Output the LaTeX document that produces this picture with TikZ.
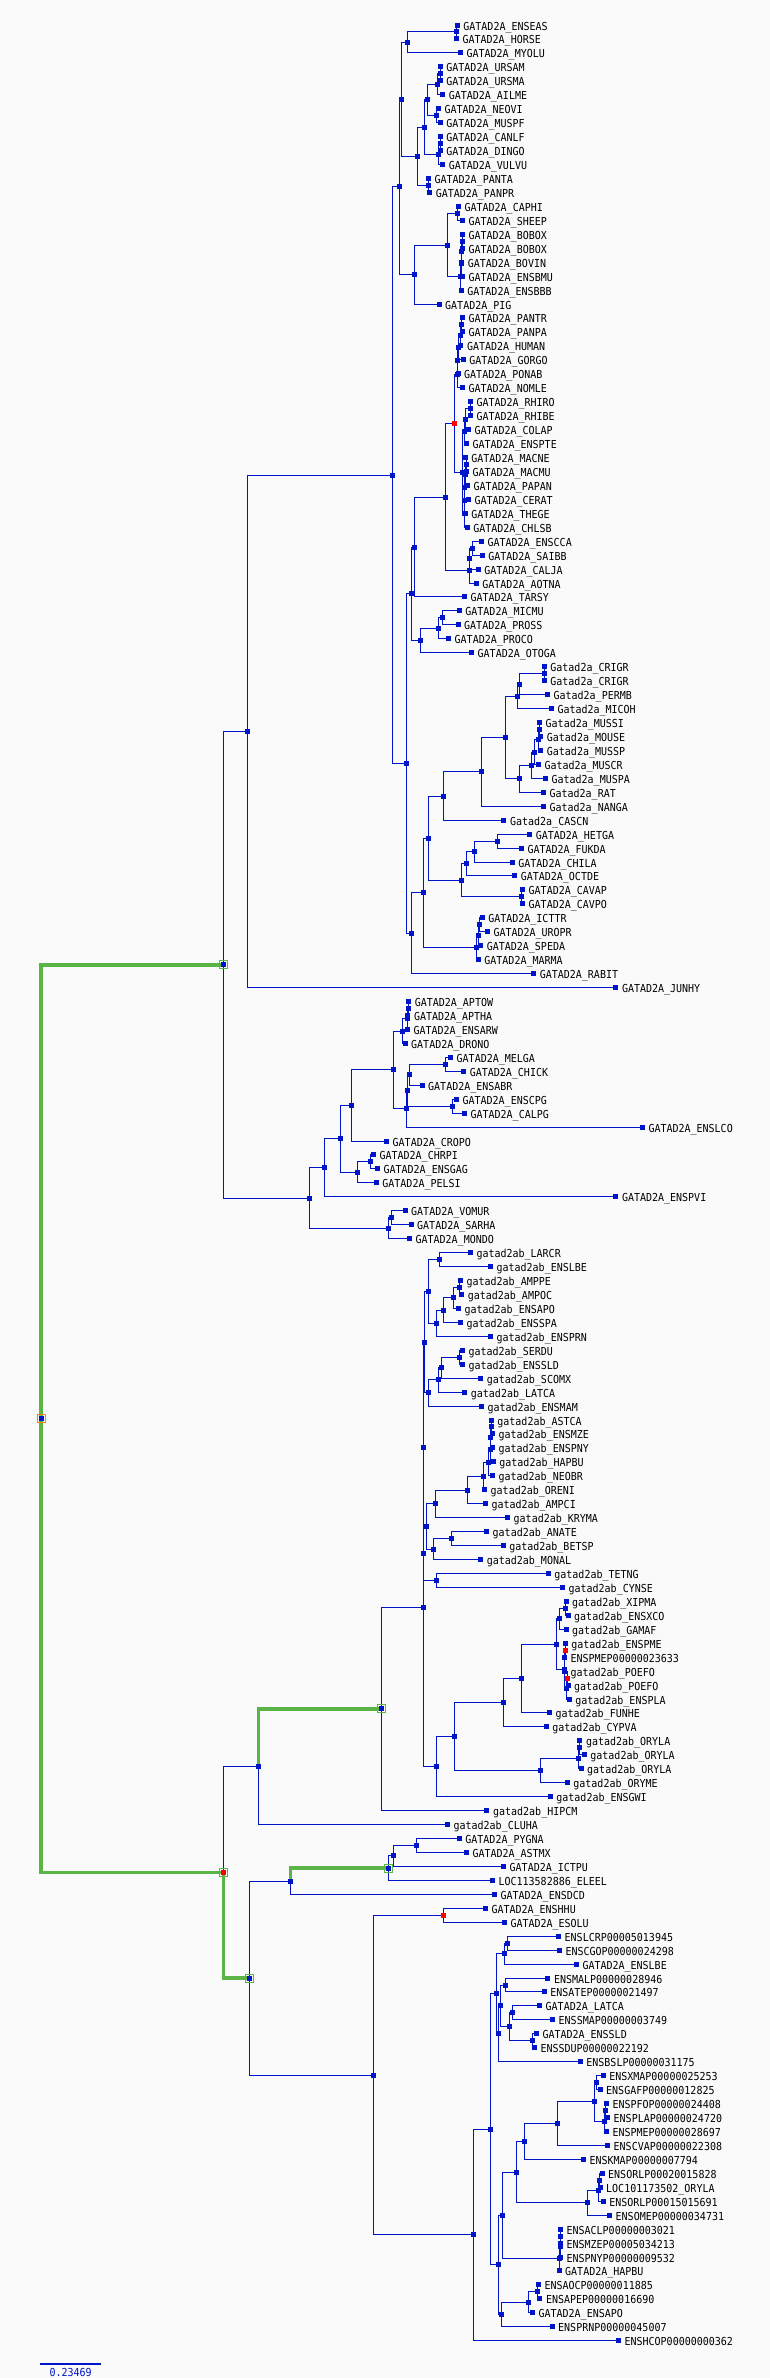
\documentclass[tikz,border=0pt]{standalone}
\usepackage{fontspec}
\setmonofont{DejaVu Sans Mono}
\definecolor{tb}{RGB}{0,20,200}
\definecolor{tg}{RGB}{90,180,70}
\definecolor{bgc}{RGB}{250,250,250}
\pgfdeclarelayer{back}
\pgfdeclarelayer{bg}
\pgfsetlayers{back,bg,main}
\tikzset{
 mk/.style={rectangle,fill=tb,minimum size=5pt,inner sep=0pt,outer sep=0pt},
 rmk/.style={mk,fill=red},
 lbl/.style={anchor=base west,inner sep=0pt,font=\ttfamily\fontsize{10}{12}\selectfont,text=black},
 edge/.style={draw=tb,line width=1pt},
 gedge/.style={draw=tg,line width=3.5pt},
 gbox/.style={rectangle,draw=tg,line width=1pt,minimum size=8pt,inner sep=0pt,fill=none},
}
\newcommand\lf[4]{\node[mk] (#1) at (#2,{25+13.95*(#3)}) {};\node[lbl] (#1t) at ([xshift=6pt,yshift=-5pt]#1.center) {\scalebox{1}[1.1]{#4}};}
\newcommand\nd[4][mk]{\node[#1] (#2) at (#3,{25+13.95*(#4)}) {};}
\newcommand\br[2]{\draw[edge] (#1.center) |- (#2.center);}
\newcommand\gbr[2]{\draw[gedge] (#1.center) |- (#2.center);}
\begin{document}
\begin{tikzpicture}[x=1pt,y=-1pt]
\useasboundingbox (0,0) rectangle (770,2378);
\begin{pgfonlayer}{back}
\fill[bgc] (0,0) rectangle (770,2378);
\end{pgfonlayer}
% ---------------- leaves
\lf{l0}{457.2}{0}{GATAD2A\_ENSEAS}
\lf{l1}{456.4}{1}{GATAD2A\_HORSE}
\lf{l2}{460.4}{2}{GATAD2A\_MYOLU}
\lf{l3}{440.2}{3}{GATAD2A\_URSAM}
\lf{l4}{440.2}{4}{GATAD2A\_URSMA}
\lf{l5}{442.6}{5}{GATAD2A\_AILME}
\lf{l6}{438.3}{6}{GATAD2A\_NEOVI}
\lf{l7}{440.2}{7}{GATAD2A\_MUSPF}
\lf{l8}{440.2}{8}{GATAD2A\_CANLF}
\lf{l9}{440.2}{9}{GATAD2A\_DINGO}
\lf{l10}{442.6}{10}{GATAD2A\_VULVU}
\lf{l11}{428.4}{11}{GATAD2A\_PANTA}
\lf{l12}{429.6}{12}{GATAD2A\_PANPR}
\lf{l13}{458.4}{13}{GATAD2A\_CAPHI}
\lf{l14}{462.4}{14}{GATAD2A\_SHEEP}
\lf{l15}{462.4}{15}{GATAD2A\_BOBOX}
\lf{l16}{462.4}{16}{GATAD2A\_BOBOX}
\lf{l17}{461.6}{17}{GATAD2A\_BOVIN}
\lf{l18}{462.4}{18}{GATAD2A\_ENSBMU}
\lf{l19}{461.2}{19}{GATAD2A\_ENSBBB}
\lf{l20}{439.0}{20}{GATAD2A\_PIG}
\lf{l21}{462.4}{21}{GATAD2A\_PANTR}
\lf{l22}{462.4}{22}{GATAD2A\_PANPA}
\lf{l23}{460.8}{23}{GATAD2A\_HUMAN}
\lf{l24}{463.2}{24}{GATAD2A\_GORGO}
\lf{l25}{458.0}{25}{GATAD2A\_PONAB}
\lf{l26}{462.4}{26}{GATAD2A\_NOMLE}
\lf{l27}{470.3}{27}{GATAD2A\_RHIRO}
\lf{l28}{470.3}{28}{GATAD2A\_RHIBE}
\lf{l29}{468.3}{29}{GATAD2A\_COLAP}
\lf{l30}{466.3}{30}{GATAD2A\_ENSPTE}
\lf{l31}{465.2}{31}{GATAD2A\_MACNE}
\lf{l32}{466.3}{32}{GATAD2A\_MACMU}
\lf{l33}{467.5}{33}{GATAD2A\_PAPAN}
\lf{l34}{468.3}{34}{GATAD2A\_CERAT}
\lf{l35}{465.2}{35}{GATAD2A\_THEGE}
\lf{l36}{467.1}{36}{GATAD2A\_CHLSB}
\lf{l37}{481.3}{37}{GATAD2A\_ENSCCA}
\lf{l38}{482.1}{38}{GATAD2A\_SAIBB}
\lf{l39}{478.2}{39}{GATAD2A\_CALJA}
\lf{l40}{476.2}{40}{GATAD2A\_AOTNA}
\lf{l41}{464.4}{41}{GATAD2A\_TARSY}
\lf{l42}{459.2}{42}{GATAD2A\_MICMU}
\lf{l43}{458.0}{43}{GATAD2A\_PROSS}
\lf{l44}{448.5}{44}{GATAD2A\_PROCO}
\lf{l45}{471.5}{45}{GATAD2A\_OTOGA}
\lf{l46}{544.2}{46}{Gatad2a\_CRIGR}
\lf{l47}{544.2}{47}{Gatad2a\_CRIGR}
\lf{l48}{547.4}{48}{Gatad2a\_PERMB}
\lf{l49}{551.3}{49}{Gatad2a\_MICOH}
\lf{l50}{539.5}{50}{Gatad2a\_MUSSI}
\lf{l51}{540.7}{51}{Gatad2a\_MOUSE}
\lf{l52}{540.7}{52}{Gatad2a\_MUSSP}
\lf{l53}{538.3}{53}{Gatad2a\_MUSCR}
\lf{l54}{545.4}{54}{Gatad2a\_MUSPA}
\lf{l55}{543.4}{55}{Gatad2a\_RAT}
\lf{l56}{543.4}{56}{Gatad2a\_NANGA}
\lf{l57}{503.9}{57}{Gatad2a\_CASCN}
\lf{l58}{529.6}{58}{GATAD2A\_HETGA}
\lf{l59}{521.3}{59}{GATAD2A\_FUKDA}
\lf{l60}{512.2}{60}{GATAD2A\_CHILA}
\lf{l61}{514.6}{61}{GATAD2A\_OCTDE}
\lf{l62}{522.5}{62}{GATAD2A\_CAVAP}
\lf{l63}{522.5}{63}{GATAD2A\_CAVPO}
\lf{l64}{482.1}{64}{GATAD2A\_ICTTR}
\lf{l65}{487.3}{65}{GATAD2A\_UROPR}
\lf{l66}{480.6}{66}{GATAD2A\_SPEDA}
\lf{l67}{478.2}{67}{GATAD2A\_MARMA}
\lf{l68}{533.6}{68}{GATAD2A\_RABIT}
\lf{l69}{615.8}{69}{GATAD2A\_JUNHY}
\lf{l70}{408.6}{70}{GATAD2A\_APTOW}
\lf{l71}{407.8}{71}{GATAD2A\_APTHA}
\lf{l72}{407.4}{72}{GATAD2A\_ENSARW}
\lf{l73}{405.0}{73}{GATAD2A\_DRONO}
\lf{l74}{450.5}{74}{GATAD2A\_MELGA}
\lf{l75}{463.6}{75}{GATAD2A\_CHICK}
\lf{l76}{422.0}{76}{GATAD2A\_ENSABR}
\lf{l77}{456.4}{77}{GATAD2A\_ENSCPG}
\lf{l78}{464.4}{78}{GATAD2A\_CALPG}
\lf{l79}{642.3}{79}{GATAD2A\_ENSLCO}
\lf{l80}{386.5}{80}{GATAD2A\_CROPO}
\lf{l81}{373.4}{81}{GATAD2A\_CHRPI}
\lf{l82}{377.4}{82}{GATAD2A\_ENSGAG}
\lf{l83}{376.2}{83}{GATAD2A\_PELSI}
\lf{l84}{615.8}{84}{GATAD2A\_ENSPVI}
\lf{l85}{405.0}{85}{GATAD2A\_VOMUR}
\lf{l86}{411.0}{86}{GATAD2A\_SARHA}
\lf{l87}{409.4}{87}{GATAD2A\_MONDO}
\lf{l88}{470.3}{88}{gatad2ab\_LARCR}
\lf{l89}{490.4}{89}{gatad2ab\_ENSLBE}
\lf{l90}{460.4}{90}{gatad2ab\_AMPPE}
\lf{l91}{461.6}{91}{gatad2ab\_AMPOC}
\lf{l92}{458.4}{92}{gatad2ab\_ENSAPO}
\lf{l93}{460.4}{93}{gatad2ab\_ENSSPA}
\lf{l94}{490.4}{94}{gatad2ab\_ENSPRN}
\lf{l95}{462.4}{95}{gatad2ab\_SERDU}
\lf{l96}{462.4}{96}{gatad2ab\_ENSSLD}
\lf{l97}{480.6}{97}{gatad2ab\_SCOMX}
\lf{l98}{464.7}{98}{gatad2ab\_LATCA}
\lf{l99}{481.3}{99}{gatad2ab\_ENSMAM}
\lf{l100}{491.2}{100}{gatad2ab\_ASTCA}
\lf{l101}{492.4}{101}{gatad2ab\_ENSMZE}
\lf{l102}{492.4}{102}{gatad2ab\_ENSPNY}
\lf{l103}{493.2}{103}{gatad2ab\_HAPBU}
\lf{l104}{492.4}{104}{gatad2ab\_NEOBR}
\lf{l105}{484.5}{105}{gatad2ab\_ORENI}
\lf{l106}{485.3}{106}{gatad2ab\_AMPCI}
\lf{l107}{507.5}{107}{gatad2ab\_KRYMA}
\lf{l108}{486.5}{108}{gatad2ab\_ANATE}
\lf{l109}{503.1}{109}{gatad2ab\_BETSP}
\lf{l110}{480.6}{110}{gatad2ab\_MONAL}
\lf{l111}{548.2}{111}{gatad2ab\_TETNG}
\lf{l112}{562.4}{112}{gatad2ab\_CYNSE}
\lf{l113}{566.0}{113}{gatad2ab\_XIPMA}
\lf{l114}{568.0}{114}{gatad2ab\_ENSXCO}
\lf{l115}{566.0}{115}{gatad2ab\_GAMAF}
\lf{l116}{565.2}{116}{gatad2ab\_ENSPME}
\lf{l117}{564.4}{117}{ENSPMEP00000023633}
\lf{l118}{564.4}{118}{gatad2ab\_POEFO}
\lf{l119}{568.0}{119}{gatad2ab\_POEFO}
\lf{l120}{569.1}{120}{gatad2ab\_ENSPLA}
\lf{l121}{549.4}{121}{gatad2ab\_FUNHE}
\lf{l122}{546.2}{122}{gatad2ab\_CYPVA}
\lf{l123}{579.8}{123}{gatad2ab\_ORYLA}
\lf{l124}{584.2}{124}{gatad2ab\_ORYLA}
\lf{l125}{581.0}{125}{gatad2ab\_ORYLA}
\lf{l126}{567.2}{126}{gatad2ab\_ORYME}
\lf{l127}{550.2}{127}{gatad2ab\_ENSGWI}
\lf{l128}{486.9}{128}{gatad2ab\_HIPCM}
\lf{l129}{447.4}{129}{gatad2ab\_CLUHA}
\lf{l130}{459.2}{130}{GATAD2A\_PYGNA}
\lf{l131}{466.3}{131}{GATAD2A\_ASTMX}
\lf{l132}{503.5}{132}{GATAD2A\_ICTPU}
\lf{l133}{492.4}{133}{LOC113582886\_ELEEL}
\lf{l134}{494.4}{134}{GATAD2A\_ENSDCD}
\lf{l135}{485.3}{135}{GATAD2A\_ENSHHU}
\lf{l136}{504.3}{136}{GATAD2A\_ESOLU}
\lf{l137}{558.5}{137}{ENSLCRP00005013945}
\lf{l138}{559.3}{138}{ENSCGOP00000024298}
\lf{l139}{576.3}{139}{GATAD2A\_ENSLBE}
\lf{l140}{547.8}{140}{ENSMALP00000028946}
\lf{l141}{544.2}{141}{ENSATEP00000021497}
\lf{l142}{539.5}{142}{GATAD2A\_LATCA}
\lf{l143}{552.5}{143}{ENSSMAP00000003749}
\lf{l144}{536.3}{144}{GATAD2A\_ENSSLD}
\lf{l145}{534.3}{145}{ENSSDUP00000022192}
\lf{l146}{580.2}{146}{ENSBSLP00000031175}
\lf{l147}{603.1}{147}{ENSXMAP00000025253}
\lf{l148}{600.0}{148}{ENSGAFP00000012825}
\lf{l149}{606.3}{149}{ENSPFOP00000024408}
\lf{l150}{607.5}{150}{ENSPLAP00000024720}
\lf{l151}{606.3}{151}{ENSPMEP00000028697}
\lf{l152}{607.5}{152}{ENSCVAP00000022308}
\lf{l153}{583.4}{153}{ENSKMAP00000007794}
\lf{l154}{602.0}{154}{ENSORLP00020015828}
\lf{l155}{600.0}{155}{LOC101173502\_ORYLA}
\lf{l156}{603.1}{156}{ENSORLP00015015691}
\lf{l157}{609.5}{157}{ENSOMEP00000034731}
\lf{l158}{560.4}{158}{ENSACLP00000003021}
\lf{l159}{560.4}{159}{ENSMZEP00005034213}
\lf{l160}{560.4}{160}{ENSPNYP00000009532}
\lf{l161}{559.0}{161}{GATAD2A\_HAPBU}
\lf{l162}{538.3}{162}{ENSAOCP00000011885}
\lf{l163}{539.8}{163}{ENSAPEP00000016690}
\lf{l164}{532.4}{164}{GATAD2A\_ENSAPO}
\lf{l165}{552.0}{165}{ENSPRNP00000045007}
\lf{l166}{618.4}{166}{ENSHCOP00000000362}
% ---------------- internal nodes
\nd{nEq}{456.5}{0.5}
\nd{nLa1}{407.5}{1.25}
\nd{nUrs}{440.2}{3.5}
\nd{nUrsA}{437.5}{4.25}
\nd{nMus}{436.3}{6.5}
\nd{nArct}{427.2}{5.375}
\nd{nCan}{440.2}{8.5}
\nd{nCanV}{438.3}{9.25}
\nd{nCanif}{424.0}{7.3125}
\nd{nFel}{428.4}{11.5}
\nd{nCarn}{417.3}{9.406}
\nd{nLa2}{401.9}{5.328}
\nd{nCap}{457.2}{13.5}
\nd{nBa}{462.0}{15.5}
\nd{nBb}{461.6}{16.25}
\nd{nBc}{461.2}{17.125}
\nd{nBd}{460.8}{18.06}
\nd{nBov}{447.4}{15.78}
\nd{nRum}{414.1}{17.89}
\nd{nLa3}{399.9}{11.61}
\nd{nPan}{461.6}{21.5}
\nd{nHp}{460.0}{22.25}
\nd{nHpg}{458.8}{23.125}
\nd{nHom}{457.5}{24.06}
\nd{nHomb}{457.0}{25.03}
\nd{nRhi}{470.3}{27.5}
\nd{nColb}{465.2}{28.25}
\nd{nColc}{464.6}{29.125}
\nd{nMac}{466.0}{31.5}
\nd{nPapa}{465.6}{32.25}
\nd{nPapb}{464.8}{33.125}
\nd{nPapc}{464.4}{34.06}
\nd{nPapd}{464.0}{35.03}
\nd{nCerc}{462.4}{32.08}
\nd[rmk]{nCat}{454.5}{28.55}
\nd{nCeb}{472.3}{37.5}
\nd{nCebb}{469.5}{38.25}
\nd{nNwm}{469.0}{39.125}
\nd{nAnth}{445.8}{33.84}
\nd{nHap}{414.1}{37.42}
\nd{nLem}{442.2}{42.5}
\nd{nLemb}{438.3}{43.25}
\nd{nStrep}{420.5}{44.125}
\nd{nPrim}{411.8}{40.77}
\nd{nCri}{544.2}{46.5}
\nd{nCrib}{519.3}{47.25}
\nd{nCric}{517.3}{48.125}
\nd{nMsa}{539.5}{50.5}
\nd{nMsb}{538.7}{51.25}
\nd{nMsc}{534.3}{52.125}
\nd{nMsd}{531.6}{53.06}
\nd{nMr}{519.3}{54.03}
\nd{nMur}{505.5}{51.08}
\nd{nMurb}{481.3}{53.54}
\nd{nMurc}{443.4}{55.27}
\nd{nHf}{497.6}{58.5}
\nd{nHfc}{474.2}{59.25}
\nd{nHfco}{466.3}{60.125}
\nd{nCav}{521.3}{62.5}
\nd{nHys}{461.6}{61.31}
\nd{nRoda}{428.8}{58.29}
\nd{nSqa}{479.8}{64.5}
\nd{nSqb}{478.2}{65.25}
\nd{nSqc}{476.2}{66.125}
\nd{nRod}{423.2}{62.21}
\nd{nGli}{411.4}{65.1}
\nd{nEuar}{406.2}{52.94}
\nd{nBor}{392.4}{32.27}
\nd{nMam}{247.3}{50.64}
\nd{nApt}{408.6}{70.5}
\nd{nAptb}{407.4}{71.25}
\nd{nPal}{402.3}{72.125}
\nd{nGal}{445.4}{74.5}
\nd{nGalb}{409.8}{75.25}
\nd{nAns}{452.5}{77.5}
\nd{nGalc}{407.4}{76.375}
\nd{nGald}{406.2}{77.69}
\nd{nNeo}{393.2}{74.9}
\nd{nBird}{351.3}{77.45}
\nd{nTur}{370.2}{81.5}
\nd{nTurb}{357.2}{82.25}
\nd{nArch}{340.2}{79.85}
\nd{nSaur}{324.4}{81.93}
\nd{nMara}{391.2}{85.5}
\nd{nMar}{388.0}{86.25}
\nd{nAmn}{309.4}{84.09}
\nd{nTet}{223.5}{67.37}
\nd{nLar}{439.4}{88.5}
\nd{nAmpa}{459.2}{90.5}
\nd{nAmpb}{453.3}{91.25}
\nd{nAmpc}{443.4}{92.125}
\nd{nAmpd}{436.3}{93.06}
\nd{nPca}{428.4}{90.78}
\nd{nSera}{459.2}{95.5}
\nd{nSerb}{441.4}{96.25}
\nd{nSerc}{438.3}{97.125}
\nd{nSerd}{428.4}{98.06}
\nd{nPcb}{424.4}{94.42}
\nd{nCia}{491.2}{100.5}
\nd{nCib}{490.8}{101.25}
\nd{nCic}{490.0}{102.125}
\nd{nCid}{488.9}{103.06}
\nd{nCie}{483.3}{104.03}
\nd{nCif}{467.5}{105.02}
\nd{nCig}{435.5}{106.01}
\nd{nAna}{451.3}{108.5}
\nd{nAnb}{433.1}{109.25}
\nd{nOv}{426.0}{107.63}
\nd{nTc}{436.3}{111.5}
\nd{nPc}{423.2}{109.57}
\nd{nPcc}{423.2}{102.0}
\nd{nXa}{565.2}{113.5}
\nd{nXb}{559.7}{114.25}
\nd[rmk]{nPm}{565.2}{116.5}
\nd[rmk]{nPf}{567.2}{118.5}
\nd{nPfb}{566.5}{119.25}
\nd{nPg}{564.4}{117.875}
\nd{nPoe}{556.5}{116.06}
\nd{nCypa}{521.3}{118.53}
\nd{nCypb}{503.5}{120.27}
\nd{nOa}{579.8}{123.5}
\nd{nOb}{578.2}{124.25}
\nd{nOry}{540.3}{125.125}
\nd{nCyp}{454.1}{122.7}
\nd{nAth}{436.3}{124.85}
\nd{nX}{423.2}{113.43}
\nd{nGab}{381.3}{120.7}
\nd{nOtc}{258.3}{124.85}
\nd{nPya}{416.5}{130.5}
\nd{nPyb}{393.2}{131.25}
\nd{nOst}{388.0}{132.125}
\nd{nOto}{290.4}{133.06}
\nd[rmk]{nEso}{443.4}{135.5}
\nd{nLca}{507.0}{137.5}
\nd{nLcb}{504.3}{138.25}
\nd{nMal}{505.5}{140.5}
\nd{nLa}{512.2}{142.5}
\nd{nSd}{532.4}{144.5}
\nd{nLasd}{509.4}{143.5}
\nd{nQa}{500.3}{142}
\nd{nQb}{498.5}{144}
\nd{nQc}{496.4}{141.125}
\nd{nXg}{596.8}{147.5}
\nd{nPla}{605.0}{149.5}
\nd{nPlb}{604.3}{150.25}
\nd{nPoeb}{594.0}{148.875}
\nd{nPoec}{557.3}{150.44}
\nd{nPoed}{524.5}{151.72}
\nd{nOra}{599.2}{154.5}
\nd{nOrb}{598.5}{155.25}
\nd{nOrc}{587.3}{156.125}
\nd{nAthb}{516.6}{153.92}
\nd{nCka}{560.4}{158.5}
\nd{nCkb}{560.0}{159.25}
\nd{nCkc}{559.0}{160.125}
\nd{nOvb}{502.0}{157.02}
\nd{nAma}{537.3}{162.5}
\nd{nAmb}{528.5}{163.25}
\nd{nAmc}{501.0}{164.125}
\nd{nD}{498.5}{160.57}
\nd{nAcan}{490.0}{150.85}
\nd{nNeot}{473.5}{158.42}
\nd{nEup}{373.4}{146.96}
\nd{nGaa}{249.2}{140.01}
\nd[rmk]{nTel}{223.5}{132.43}
\nd{root}{41}{99.9}
% green boxes
\node[gbox] (bxTet) at (nTet) {};
\node[gbox] (bxTel) at (nTel) {};
\node[gbox] (bxGaa) at (nGaa) {};
\node[gbox] (bxGab) at (nGab) {};
\node[gbox] (bxOst) at (nOst) {};
\node[gbox,draw=orange] (bxRoot) at (root) {};
% scale bar
\coordinate (sb1) at (40,2363.7);
\coordinate (sb2) at (101,2363.7);
\node[lbl,text=tb] (sbl) at (49.3,2376) {\scalebox{1}[1.1]{0.23469}};
% ---------------- edges
\begin{pgfonlayer}{bg}
\draw[tb,line width=2pt] (sb1) -- (sb2);
\br{nEq}{l0}\br{nEq}{l1}
\br{nLa1}{nEq}\br{nLa1}{l2}
\br{nUrs}{l3}\br{nUrs}{l4}
\br{nUrsA}{nUrs}\br{nUrsA}{l5}
\br{nMus}{l6}\br{nMus}{l7}
\br{nArct}{nUrsA}\br{nArct}{nMus}
\br{nCan}{l8}\br{nCan}{l9}
\br{nCanV}{nCan}\br{nCanV}{l10}
\br{nCanif}{nArct}\br{nCanif}{nCanV}
\br{nFel}{l11}\br{nFel}{l12}
\br{nCarn}{nCanif}\br{nCarn}{nFel}
\br{nLa2}{nLa1}\br{nLa2}{nCarn}
\br{nCap}{l13}\br{nCap}{l14}
\br{nBa}{l15}\br{nBa}{l16}
\br{nBb}{nBa}\br{nBb}{l17}
\br{nBc}{nBb}\br{nBc}{l18}
\br{nBd}{nBc}\br{nBd}{l19}
\br{nBov}{nCap}\br{nBov}{nBd}
\br{nRum}{nBov}\br{nRum}{l20}
\br{nLa3}{nLa2}\br{nLa3}{nRum}
\br{nPan}{l21}\br{nPan}{l22}
\br{nHp}{nPan}\br{nHp}{l23}
\br{nHpg}{nHp}\br{nHpg}{l24}
\br{nHom}{nHpg}\br{nHom}{l25}
\br{nHomb}{nHom}\br{nHomb}{l26}
\br{nRhi}{l27}\br{nRhi}{l28}
\br{nColb}{nRhi}\br{nColb}{l29}
\br{nColc}{nColb}\br{nColc}{l30}
\br{nMac}{l31}\br{nMac}{l32}
\br{nPapa}{nMac}\br{nPapa}{l33}
\br{nPapb}{nPapa}\br{nPapb}{l34}
\br{nPapc}{nPapb}\br{nPapc}{l35}
\br{nPapd}{nPapc}\br{nPapd}{l36}
\br{nCerc}{nColc}\br{nCerc}{nPapd}
\br{nCat}{nHomb}\br{nCat}{nCerc}
\br{nCeb}{l37}\br{nCeb}{l38}
\br{nCebb}{nCeb}\br{nCebb}{l39}
\br{nNwm}{nCebb}\br{nNwm}{l40}
\br{nAnth}{nCat}\br{nAnth}{nNwm}
\br{nHap}{nAnth}\br{nHap}{l41}
\br{nLem}{l42}\br{nLem}{l43}
\br{nLemb}{nLem}\br{nLemb}{l44}
\br{nStrep}{nLemb}\br{nStrep}{l45}
\br{nPrim}{nHap}\br{nPrim}{nStrep}
\br{nCri}{l46}\br{nCri}{l47}
\br{nCrib}{nCri}\br{nCrib}{l48}
\br{nCric}{nCrib}\br{nCric}{l49}
\br{nMsa}{l50}\br{nMsa}{l51}
\br{nMsb}{nMsa}\br{nMsb}{l52}
\br{nMsc}{nMsb}\br{nMsc}{l53}
\br{nMsd}{nMsc}\br{nMsd}{l54}
\br{nMr}{nMsd}\br{nMr}{l55}
\br{nMur}{nCric}\br{nMur}{nMr}
\br{nMurb}{nMur}\br{nMurb}{l56}
\br{nMurc}{nMurb}\br{nMurc}{l57}
\br{nHf}{l58}\br{nHf}{l59}
\br{nHfc}{nHf}\br{nHfc}{l60}
\br{nHfco}{nHfc}\br{nHfco}{l61}
\br{nCav}{l62}\br{nCav}{l63}
\br{nHys}{nHfco}\br{nHys}{nCav}
\br{nRoda}{nMurc}\br{nRoda}{nHys}
\br{nSqa}{l64}\br{nSqa}{l65}
\br{nSqb}{nSqa}\br{nSqb}{l66}
\br{nSqc}{nSqb}\br{nSqc}{l67}
\br{nRod}{nRoda}\br{nRod}{nSqc}
\br{nGli}{nRod}\br{nGli}{l68}
\br{nEuar}{nPrim}\br{nEuar}{nGli}
\br{nBor}{nLa3}\br{nBor}{nEuar}
\br{nMam}{nBor}\br{nMam}{l69}
\br{nApt}{l70}\br{nApt}{l71}
\br{nAptb}{nApt}\br{nAptb}{l72}
\br{nPal}{nAptb}\br{nPal}{l73}
\br{nGal}{l74}\br{nGal}{l75}
\br{nGalb}{nGal}\br{nGalb}{l76}
\br{nAns}{l77}\br{nAns}{l78}
\br{nGalc}{nGalb}\br{nGalc}{nAns}
\br{nGald}{nGalc}\br{nGald}{l79}
\br{nNeo}{nPal}\br{nNeo}{nGald}
\br{nBird}{nNeo}\br{nBird}{l80}
\br{nTur}{l81}\br{nTur}{l82}
\br{nTurb}{nTur}\br{nTurb}{l83}
\br{nArch}{nBird}\br{nArch}{nTurb}
\br{nSaur}{nArch}\br{nSaur}{l84}
\br{nMara}{l85}\br{nMara}{l86}
\br{nMar}{nMara}\br{nMar}{l87}
\br{nAmn}{nSaur}\br{nAmn}{nMar}
\br{nTet}{nMam}\br{nTet}{nAmn}
\br{nLar}{l88}\br{nLar}{l89}
\br{nAmpa}{l90}\br{nAmpa}{l91}
\br{nAmpb}{nAmpa}\br{nAmpb}{l92}
\br{nAmpc}{nAmpb}\br{nAmpc}{l93}
\br{nAmpd}{nAmpc}\br{nAmpd}{l94}
\br{nPca}{nLar}\br{nPca}{nAmpd}
\br{nSera}{l95}\br{nSera}{l96}
\br{nSerb}{nSera}\br{nSerb}{l97}
\br{nSerc}{nSerb}\br{nSerc}{l98}
\br{nSerd}{nSerc}\br{nSerd}{l99}
\br{nPcb}{nPca}\br{nPcb}{nSerd}
\br{nCia}{l100}\br{nCia}{l101}
\br{nCib}{nCia}\br{nCib}{l102}
\br{nCic}{nCib}\br{nCic}{l103}
\br{nCid}{nCic}\br{nCid}{l104}
\br{nCie}{nCid}\br{nCie}{l105}
\br{nCif}{nCie}\br{nCif}{l106}
\br{nCig}{nCif}\br{nCig}{l107}
\br{nAna}{l108}\br{nAna}{l109}
\br{nAnb}{nAna}\br{nAnb}{l110}
\br{nOv}{nCig}\br{nOv}{nAnb}
\br{nTc}{l111}\br{nTc}{l112}
\br{nPc}{nOv}\br{nPc}{nTc}
\br{nPcc}{nPcb}\br{nPcc}{nPc}
\br{nXa}{l113}\br{nXa}{l114}
\br{nXb}{nXa}\br{nXb}{l115}
\br{nPm}{l116}\br{nPm}{l117}
\br{nPf}{l118}\br{nPf}{l119}
\br{nPfb}{nPf}\br{nPfb}{l120}
\br{nPg}{nPm}\br{nPg}{nPfb}
\br{nPoe}{nXb}\br{nPoe}{nPg}
\br{nCypa}{nPoe}\br{nCypa}{l121}
\br{nCypb}{nCypa}\br{nCypb}{l122}
\br{nOa}{l123}\br{nOa}{l124}
\br{nOb}{nOa}\br{nOb}{l125}
\br{nOry}{nOb}\br{nOry}{l126}
\br{nCyp}{nCypb}\br{nCyp}{nOry}
\br{nAth}{nCyp}\br{nAth}{l127}
\br{nX}{nPcc}\br{nX}{nAth}
\br{nGab}{nX}\br{nGab}{l128}
\br{nOtc}{l129}
\br{nPya}{l130}\br{nPya}{l131}
\br{nPyb}{nPya}\br{nPyb}{l132}
\br{nOst}{nPyb}\br{nOst}{l133}
\br{nOto}{l134}
\br{nEso}{l135}\br{nEso}{l136}
\br{nLca}{l137}\br{nLca}{l138}
\br{nLcb}{nLca}\br{nLcb}{l139}
\br{nMal}{l140}\br{nMal}{l141}
\br{nLa}{l142}\br{nLa}{l143}
\br{nSd}{l144}\br{nSd}{l145}
\br{nLasd}{nLa}\br{nLasd}{nSd}
\br{nQa}{nMal}\br{nQa}{nLasd}
\br{nQb}{nQa}\br{nQb}{l146}
\br{nQc}{nLcb}\br{nQc}{nQb}
\br{nXg}{l147}\br{nXg}{l148}
\br{nPla}{l149}\br{nPla}{l150}
\br{nPlb}{nPla}\br{nPlb}{l151}
\br{nPoeb}{nXg}\br{nPoeb}{nPlb}
\br{nPoec}{nPoeb}\br{nPoec}{l152}
\br{nPoed}{nPoec}\br{nPoed}{l153}
\br{nOra}{l154}\br{nOra}{l155}
\br{nOrb}{nOra}\br{nOrb}{l156}
\br{nOrc}{nOrb}\br{nOrc}{l157}
\br{nAthb}{nPoed}\br{nAthb}{nOrc}
\br{nCka}{l158}\br{nCka}{l159}
\br{nCkb}{nCka}\br{nCkb}{l160}
\br{nCkc}{nCkb}\br{nCkc}{l161}
\br{nOvb}{nAthb}\br{nOvb}{nCkc}
\br{nAma}{l162}\br{nAma}{l163}
\br{nAmb}{nAma}\br{nAmb}{l164}
\br{nAmc}{nAmb}\br{nAmc}{l165}
\br{nD}{nOvb}\br{nD}{nAmc}
\br{nAcan}{nQc}\br{nAcan}{nD}
\br{nNeot}{nAcan}\br{nNeot}{l166}
\br{nEup}{nEso}\br{nEup}{nNeot}
\br{nGaa}{nEup}\br{nGaa}{nOto}
\br{nTel}{nOtc}
\gbr{nOtc}{nGab}
\gbr{nOto}{nOst}
\gbr{nTel}{nGaa}
\gbr{root}{nTet}\gbr{root}{nTel}
\end{pgfonlayer}
\end{tikzpicture}
\end{document}
